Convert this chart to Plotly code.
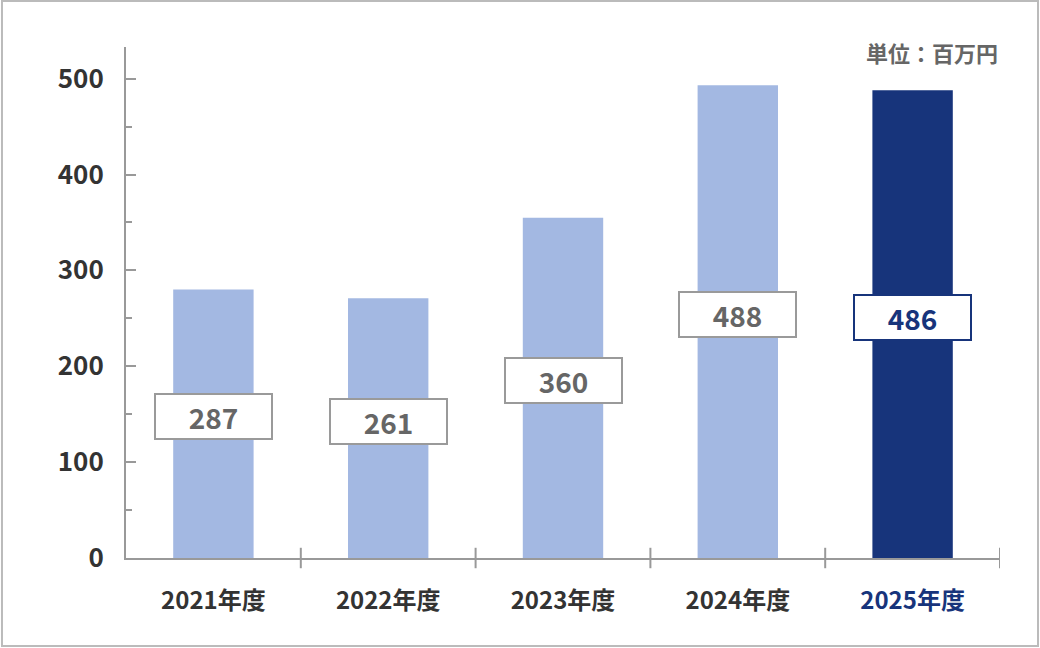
import plotly.graph_objects as go

# data
years = ["2021年度", "2022年度", "2023年度", "2024年度", "2025年度"]
bar_values = [280, 271, 355, 493, 488]
label_values = ["287", "261", "360", "488", "486"]
y_ticks = [0, 100, 200, 300, 400, 500]

LIGHT = "#a3b8e2"
DARK = "#17347b"
FONT = "Noto Sans CJK JP"

colors = [LIGHT] * 4 + [DARK]

fig = go.Figure()
fig.add_trace(go.Bar(
    x=years, y=bar_values, marker_color=colors, marker_line_width=0,
    width=0.46, hoverinfo="skip",
))

# value boxes in the middle of each bar
for i, (yr, v, lab) in enumerate(zip(years, bar_values, label_values)):
    c = DARK if i == len(years) - 1 else "#666666"
    bc = DARK if i == len(years) - 1 else "#9a9a9a"
    fig.add_annotation(
        x=yr, y=v / 2, yshift=7, text="<b>%s</b>" % lab, showarrow=False,
        font=dict(family=FONT, size=28, color=c),
        bgcolor="white", bordercolor=bc, borderwidth=2,
        width=113, height=41,
    )

# x tick labels (last one in dark blue)
ticktext = ["<b>%s</b>" % y for y in years[:-1]] + \
    ["<b><span style='color:%s'>%s</span></b>" % (DARK, years[-1])]

fig.update_xaxes(
    tickmode="array", tickvals=years, ticktext=ticktext, ticks="",
    showline=True, linecolor="#999999", linewidth=2,
    tickfont=dict(family=FONT, size=24, color="#333333"),
    range=[-0.5, 4.5], fixedrange=True, ticklabelstandoff=20,
)
fig.update_yaxes(
    range=[0, 533], tickvals=y_ticks,
    ticktext=["<b>%d</b>" % t for t in y_ticks],
    ticks="inside", ticklen=10, tickwidth=2, tickcolor="#999999",
    minor=dict(ticks="inside", ticklen=6, tickwidth=2, tickcolor="#999999", dtick=50),
    showline=True, linecolor="#999999", linewidth=2, showgrid=False, zeroline=False,
    tickfont=dict(family=FONT, size=26, color="#333333"), ticklabelstandoff=15,
    fixedrange=True,
)

# category boundary ticks crossing the x axis
for i in range(len(years)):
    fig.add_shape(type="line", xref="x", yref="paper", x0=i + 0.5, x1=i + 0.5,
                  y0=-0.02, y1=0.02, line=dict(color="#999999", width=2))

# outer frame
fig.add_shape(type="rect", xref="paper", yref="paper",
              x0=-0.1419, x1=1.0435, y0=-0.1722, y1=1.0900,
              line=dict(color="#bbbbbb", width=2), layer="below")

fig.add_annotation(
    xref="paper", yref="paper", x=1.0, y=0.99, xanchor="right", yanchor="middle",
    text="<b>単位：百万円</b>", showarrow=False,
    font=dict(family=FONT, size=22, color="#666666"),
)

fig.update_layout(
    width=1040, height=648,
    margin=dict(l=126, r=40, t=47, b=90),
    plot_bgcolor="white", paper_bgcolor="white",
    showlegend=False, bargap=0.54,
    font=dict(family=FONT),
)

fig.write_html("out.html", config={"displayModeBar": False},
               post_script="document.body.style.margin='0';")
